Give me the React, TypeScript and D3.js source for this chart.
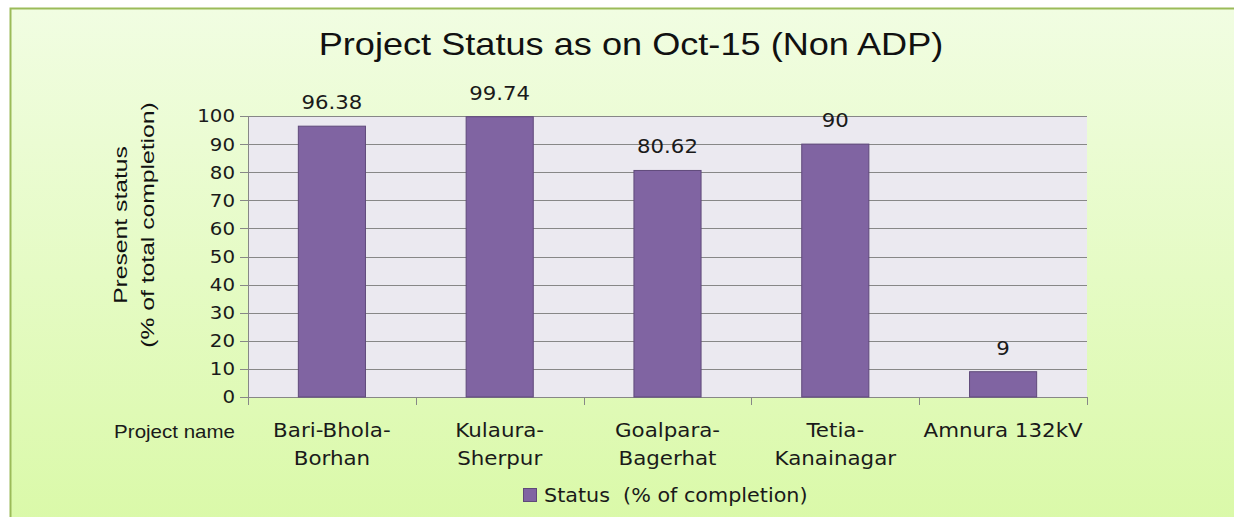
import React, { useEffect, useRef } from 'react';
import * as d3 from 'd3';

const projects = ['Bari-Bhola-\nBorhan', 'Kulaura-\nSherpur', 'Goalpara-\nBagerhat', 'Tetia-\nKanainagar', 'Amnura 132kV'];
const completion = [96.38, 99.74, 80.62, 90, 9];
const yTicks = [0, 10, 20, 30, 40, 50, 60, 70, 80, 90, 100];

const W = 1234;
const H = 517;

type Sel = d3.Selection<SVGGElement, unknown, null, undefined>;

// text stretched along its baseline, the reference is a bit wide
function label(parent: any, x: number, y: number, sx: number, font: string, size: number, anchor: string, rotate = 0) {
  const g: Sel = parent.append('g').attr('transform', `translate(${x},${y}) rotate(${rotate}) scale(${sx},1)`);
  return g.append('text')
    .attr('text-anchor', anchor)
    .attr('font-family', font)
    .attr('font-size', size)
    .attr('fill', '#1a1a1a');
}

export default function App() {
  const ref = useRef<SVGSVGElement>(null);

  useEffect(() => {
    const svg = d3.select(ref.current);
    svg.selectAll('*').remove();

    const defs = svg.append('defs');
    const grad = defs.append('linearGradient').attr('id', 'bg').attr('x1', 0).attr('y1', 0).attr('x2', 0).attr('y2', 1);
    grad.append('stop').attr('offset', '0%').attr('stop-color', '#f1fde2');
    grad.append('stop').attr('offset', '100%').attr('stop-color', '#d9f9a6');

    svg.append('rect').attr('width', W).attr('height', H).attr('fill', '#fff');
    svg.append('rect')
      .attr('x', 10.5).attr('y', 8.5)
      .attr('width', W + 20).attr('height', H + 20)
      .attr('fill', 'url(#bg)')
      .attr('stroke', '#9bbb59').attr('stroke-width', 2);

    const left = 248, right = 1087, top = 116, bottom = 397;

    const x = d3.scaleBand<string>().domain(projects).range([left, right]).paddingInner(0.6).paddingOuter(0.3);
    const y = d3.scaleLinear().domain([0, 100]).range([bottom, top]);

    svg.append('rect')
      .attr('x', left).attr('y', top)
      .attr('width', right - left).attr('height', bottom - top)
      .attr('fill', '#ebe9f0');

    // gridlines + left tick marks
    svg.append('g').selectAll('line').data(yTicks).join('line')
      .attr('x1', left - 8).attr('x2', right)
      .attr('y1', d => Math.round(y(d)) + 0.5).attr('y2', d => Math.round(y(d)) + 0.5)
      .attr('stroke', '#878787').attr('stroke-width', 1);

    svg.append('line')
      .attr('x1', left + 0.5).attr('x2', left + 0.5)
      .attr('y1', top).attr('y2', bottom + 8)
      .attr('stroke', '#878787');

    yTicks.forEach(t => {
      label(svg, left - 13, y(t), 1.1, 'DejaVu Sans', 18, 'end').attr('dy', '0.36em').text(t);
    });

    // x ticks at category boundaries
    const step = x.step();
    const bounds = d3.range(projects.length + 1).map(i => left + i * step);
    svg.append('g').selectAll('line').data(bounds).join('line')
      .attr('x1', d => Math.round(d) + 0.5).attr('x2', d => Math.round(d) + 0.5)
      .attr('y1', bottom).attr('y2', bottom + 8)
      .attr('stroke', '#878787');

    svg.append('g').selectAll('rect').data(completion).join('rect')
      .attr('x', (d, i) => x(projects[i])!)
      .attr('y', d => y(d))
      .attr('width', x.bandwidth())
      .attr('height', d => bottom - y(d))
      .attr('fill', '#8064a2')
      .attr('stroke', '#5f497a').attr('stroke-width', 1);

    completion.forEach((v, i) => {
      label(svg, x(projects[i])! + x.bandwidth() / 2, y(v) - 17, 1.12, 'DejaVu Sans', 19, 'middle').text(v);
    });

    projects.forEach(p => {
      const t = label(svg, x(p)! + x.bandwidth() / 2, 437, 1.07, 'DejaVu Sans', 20, 'middle');
      p.split('\n').forEach((line, k) => {
        t.append('tspan').attr('x', 0).attr('dy', k === 0 ? 0 : 28).text(line);
      });
    });

    label(svg, 235, 438, 1.14, 'Liberation Sans', 18, 'end').text('Project name');

    label(svg, 631, 55, 1.13, 'Liberation Sans', 32, 'middle').attr('fill', '#111')
      .text('Project Status as on Oct-15 (Non ADP)');

    const yt = label(svg, 127, 225, 1.3, 'Liberation Sans', 19, 'middle', -90).attr('fill', '#111');
    yt.append('tspan').attr('x', 0).attr('dy', 0).text('Present status');
    yt.append('tspan').attr('x', 0).attr('dy', 27).text('(% of total completion)');

    svg.append('rect')
      .attr('x', 523.5).attr('y', 488.5).attr('width', 13).attr('height', 13)
      .attr('fill', '#8064a2').attr('stroke', '#5f497a');
    label(svg, 544, 502, 1.09, 'DejaVu Sans', 19, 'start')
      .attr('xml:space', 'preserve')
      .style('white-space', 'pre')
      .text('Status  (% of completion)');
  }, []);

  return (
    <svg ref={ref} width={W} height={H} style={{ position: 'absolute', left: 0, top: 0, display: 'block' }} />
  );
}
